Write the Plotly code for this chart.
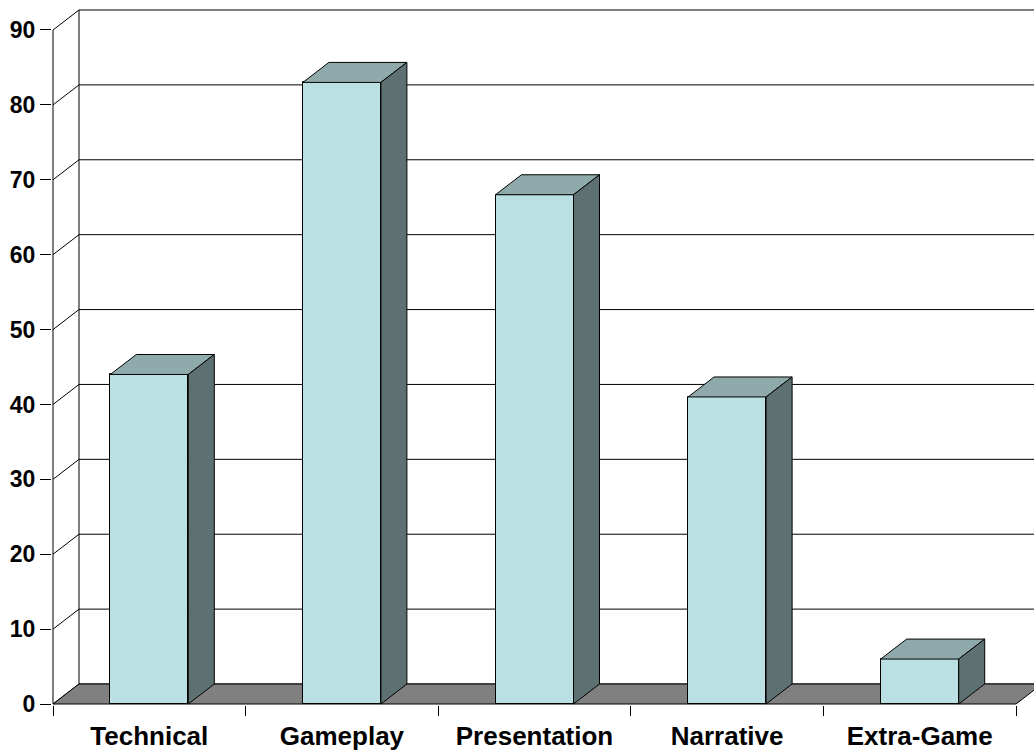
import plotly.graph_objects as go

# Survey results per category
categories = ["Technical", "Gameplay", "Presentation", "Narrative", "Extra-Game"]
values = [44, 83, 68, 41, 6]
y_ticks = [0, 10, 20, 30, 40, 50, 60, 70, 80, 90]

# 3D look: depth offset in axis units and bar geometry
DX = 0.135      # horizontal depth (category units)
DY = 2.67       # vertical depth (value units)
BAR_W = 0.405
Y_MAX = 90

FRONT = "#BBE0E3"
TOP = "#8EAAAB"
SIDE = "#5E7172"
FLOOR = "#808080"
EDGE = "#000000"
FONT = "Liberation Sans, Arial, sans-serif"

n = len(categories)
x_left = -0.5
x_right = n - 0.5

fig = go.Figure()

shapes = []
# back wall gridlines and left wall diagonals
for v in y_ticks:
    shapes.append(dict(type="line", xref="x", yref="y", layer="below",
                       x0=x_left + DX, y0=v + DY, x1=x_right + 1.0, y1=v + DY,
                       line=dict(color=EDGE, width=1)))
    shapes.append(dict(type="line", xref="x", yref="y", layer="below",
                       x0=x_left, y0=v, x1=x_left + DX, y1=v + DY,
                       line=dict(color=EDGE, width=1)))
# left wall back edge and front value axis
shapes.append(dict(type="line", xref="x", yref="y", layer="below",
                   x0=x_left + DX, y0=DY, x1=x_left + DX, y1=Y_MAX + DY,
                   line=dict(color=EDGE, width=1)))
shapes.append(dict(type="line", xref="x", yref="y", layer="below",
                   x0=x_left, y0=0, x1=x_left, y1=Y_MAX,
                   line=dict(color=EDGE, width=1)))
# floor
floor_path = (f"M {x_left},0 L {x_left + DX},{DY} L {x_right + DX},{DY} "
              f"L {x_right},0 Z")
shapes.append(dict(type="path", xref="x", yref="y", layer="below",
                   path=floor_path, fillcolor=FLOOR,
                   line=dict(color=EDGE, width=1)))

# front faces of the columns
fig.add_trace(go.Bar(
    x=list(range(n)), y=values, width=BAR_W,
    marker=dict(color=FRONT, line=dict(color=EDGE, width=1)),
    hoverinfo="skip", showlegend=False,
))

# top and side faces
for i, v in enumerate(values):
    x0 = i - BAR_W / 2
    x1 = i + BAR_W / 2
    fig.add_trace(go.Scatter(
        x=[x0, x0 + DX, x1 + DX, x1, x0],
        y=[v, v + DY, v + DY, v, v],
        fill="toself", fillcolor=TOP, mode="lines",
        line=dict(color=EDGE, width=1),
        hoverinfo="skip", showlegend=False,
    ))
    fig.add_trace(go.Scatter(
        x=[x1, x1, x1 + DX, x1 + DX, x1],
        y=[0, v, v + DY, DY, 0],
        fill="toself", fillcolor=SIDE, mode="lines",
        line=dict(color=EDGE, width=1),
        hoverinfo="skip", showlegend=False,
    ))

# pixel scale: 192.6 px per category, 7.489 px per value unit
PX_CAT = 192.6
PX_VAL = 7.489
plot_w = 1034 - 52
plot_h = 705
xr0 = x_left - 1 / PX_CAT
yr0 = -1 / PX_VAL

fig.update_layout(
    width=1034, height=751,
    margin=dict(l=52, r=0, t=0, b=751 - plot_h),
    paper_bgcolor="white", plot_bgcolor="white",
    shapes=shapes,
    bargap=0,
    xaxis=dict(
        range=[xr0, xr0 + plot_w / PX_CAT],
        tickvals=list(range(n)), ticktext=categories, ticks="",
        tickfont=dict(family=FONT, size=26, color="black", weight="bold"),
        showgrid=False, zeroline=False, showline=False,
        ticklabelstandoff=13,
        minor=dict(tickvals=[k - 0.5 for k in range(n + 1)], ticks="outside",
                   ticklen=10, tickcolor=EDGE, tickwidth=1, showgrid=False),
        fixedrange=True,
    ),
    yaxis=dict(
        range=[yr0, yr0 + plot_h / PX_VAL],
        tickvals=y_ticks, ticks="outside", ticklen=11, tickcolor=EDGE,
        tickwidth=1,
        tickfont=dict(family=FONT, size=23, color="black", weight="bold"),
        showgrid=False, zeroline=False, showline=False,
        fixedrange=True,
    ),
)

fig.write_html("out.html")
